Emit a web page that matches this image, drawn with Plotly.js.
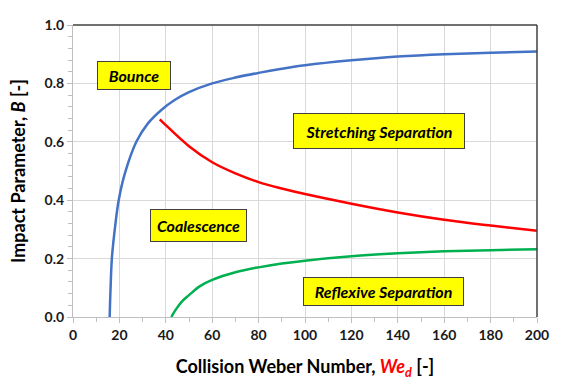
<!DOCTYPE html>
<html>
<head>
<meta charset="utf-8">
<script src="https://cdn.plot.ly/plotly-3.0.1.min.js"></script>
<style>html,body{margin:0;padding:0;background:#fff;}#chart{width:566px;height:386px;}</style>
</head>
<body>
<div id="chart"></div>
<script>
// Bounce / stretching boundary (blue)
const bounceX = [15.8, 16.2, 16.8, 18.3, 19.7, 22.3, 27.3, 32.3, 38.1, 43.8, 50, 60, 70, 80, 90, 100, 120, 140, 160, 180, 200];
const bounceY = [0.0, 0.10, 0.206, 0.32, 0.40, 0.49, 0.60, 0.663, 0.709, 0.743, 0.77, 0.80, 0.82, 0.836, 0.85, 0.862, 0.879, 0.892, 0.90, 0.905, 0.909];
// Stretching separation boundary (red)
const stretchX = [37.4, 40, 50, 60, 70, 80, 90, 100, 120, 140, 160, 180, 200];
const stretchY = [0.677, 0.657, 0.585, 0.53, 0.492, 0.462, 0.44, 0.421, 0.388, 0.358, 0.333, 0.313, 0.295];
// Reflexive separation boundary (green)
const reflexX = [42.4, 44, 47.4, 50, 54.6, 60, 70, 80, 90, 100, 120, 140, 160, 180, 200];
const reflexY = [0.0, 0.022, 0.057, 0.075, 0.105, 0.127, 0.153, 0.17, 0.183, 0.193, 0.208, 0.218, 0.225, 0.229, 0.232];

const regionLabels = ['Bounce', 'Stretching Separation', 'Coalescence', 'Reflexive Separation'];
const regionX = [26.4, 131.9, 54.3, 133.7];
const regionY = [0.827, 0.636, 0.313, 0.089];
const regionW = [68, 166, 91, 155];
const regionH = [23, 30, 27, 23];

const xTitle = 'Collision Weber Number, <span style="color:#FF0000"><i>We<sub>d</sub></i></span> [-]';
const yTitle = 'Impact Parameter, <i>B</i> [-]';

const fontFam = 'Lato, "Open Sans", sans-serif';

const lineStyle = (c) => ({color: c, width: 2.5, shape: 'spline', smoothing: 1});
const traces = [
  {x: bounceX, y: bounceY, mode: 'lines', line: lineStyle('#4472C4'), hoverinfo: 'skip'},
  {x: stretchX, y: stretchY, mode: 'lines', line: lineStyle('#FF0000'), hoverinfo: 'skip'},
  {x: reflexX, y: reflexY, mode: 'lines', line: lineStyle('#00B050'), hoverinfo: 'skip'}
];

const annotations = regionLabels.map((t, i) => ({
  x: regionX[i], y: regionY[i], xref: 'x', yref: 'y',
  text: '<b><i>' + t + '</i></b>', showarrow: false,
  font: {family: fontFam, size: 16, color: '#000'},
  bgcolor: '#FFFF00', bordercolor: '#404040', borderwidth: 1,
  width: regionW[i], height: regionH[i], borderpad: 2, align: 'center'
}));

const layout = {
  width: 566, height: 386,
  margin: {l: 73, r: 29, t: 25, b: 69},
  paper_bgcolor: '#fff', plot_bgcolor: '#fff',
  showlegend: false,
  font: {family: fontFam, color: '#000'},
  xaxis: {
    range: [0, 200], dtick: 20, tick0: 0,
    showgrid: true, gridcolor: '#D9D9D9', gridwidth: 1,
    showline: true, linecolor: '#BFBFBF', linewidth: 1,
    ticks: 'outside', ticklen: 5, tickcolor: '#BFBFBF',
    minor: {dtick: 10, ticks: 'outside', ticklen: 4, tickcolor: '#BFBFBF', showgrid: false},
    tickfont: {family: fontFam, size: 14, color: '#1a1a1a', weight: 'bold'},
    zeroline: false,
    title: {text: '<b>' + xTitle + '</b>', font: {family: fontFam, size: 18, color: '#000'}, standoff: 18}
  },
  yaxis: {
    range: [0, 1], dtick: 0.2, tick0: 0, tickformat: '.1f',
    showgrid: true, gridcolor: '#D9D9D9', gridwidth: 1,
    showline: true, linecolor: '#BFBFBF', linewidth: 1,
    ticks: 'outside', ticklen: 5, tickcolor: '#BFBFBF',
    minor: {dtick: 0.04, ticks: 'outside', ticklen: 4, tickcolor: '#BFBFBF', showgrid: false},
    tickfont: {family: fontFam, size: 14, color: '#1a1a1a', weight: 'bold'},
    zeroline: false,
    title: {text: '<b>' + yTitle + '</b>', font: {family: fontFam, size: 18, color: '#000'}, standoff: 14}
  },
  shapes: [
    {type: 'line', xref: 'paper', yref: 'paper', x0: 0, x1: 1, y0: 1, y1: 1, line: {color: '#404040', width: 1.5}},
    {type: 'line', xref: 'paper', yref: 'paper', x0: 1, x1: 1, y0: 0, y1: 1, line: {color: '#404040', width: 1.5}}
  ],
  annotations: annotations
};

Plotly.newPlot('chart', traces, layout, {displayModeBar: false, staticPlot: true});
</script>
</body>
</html>
